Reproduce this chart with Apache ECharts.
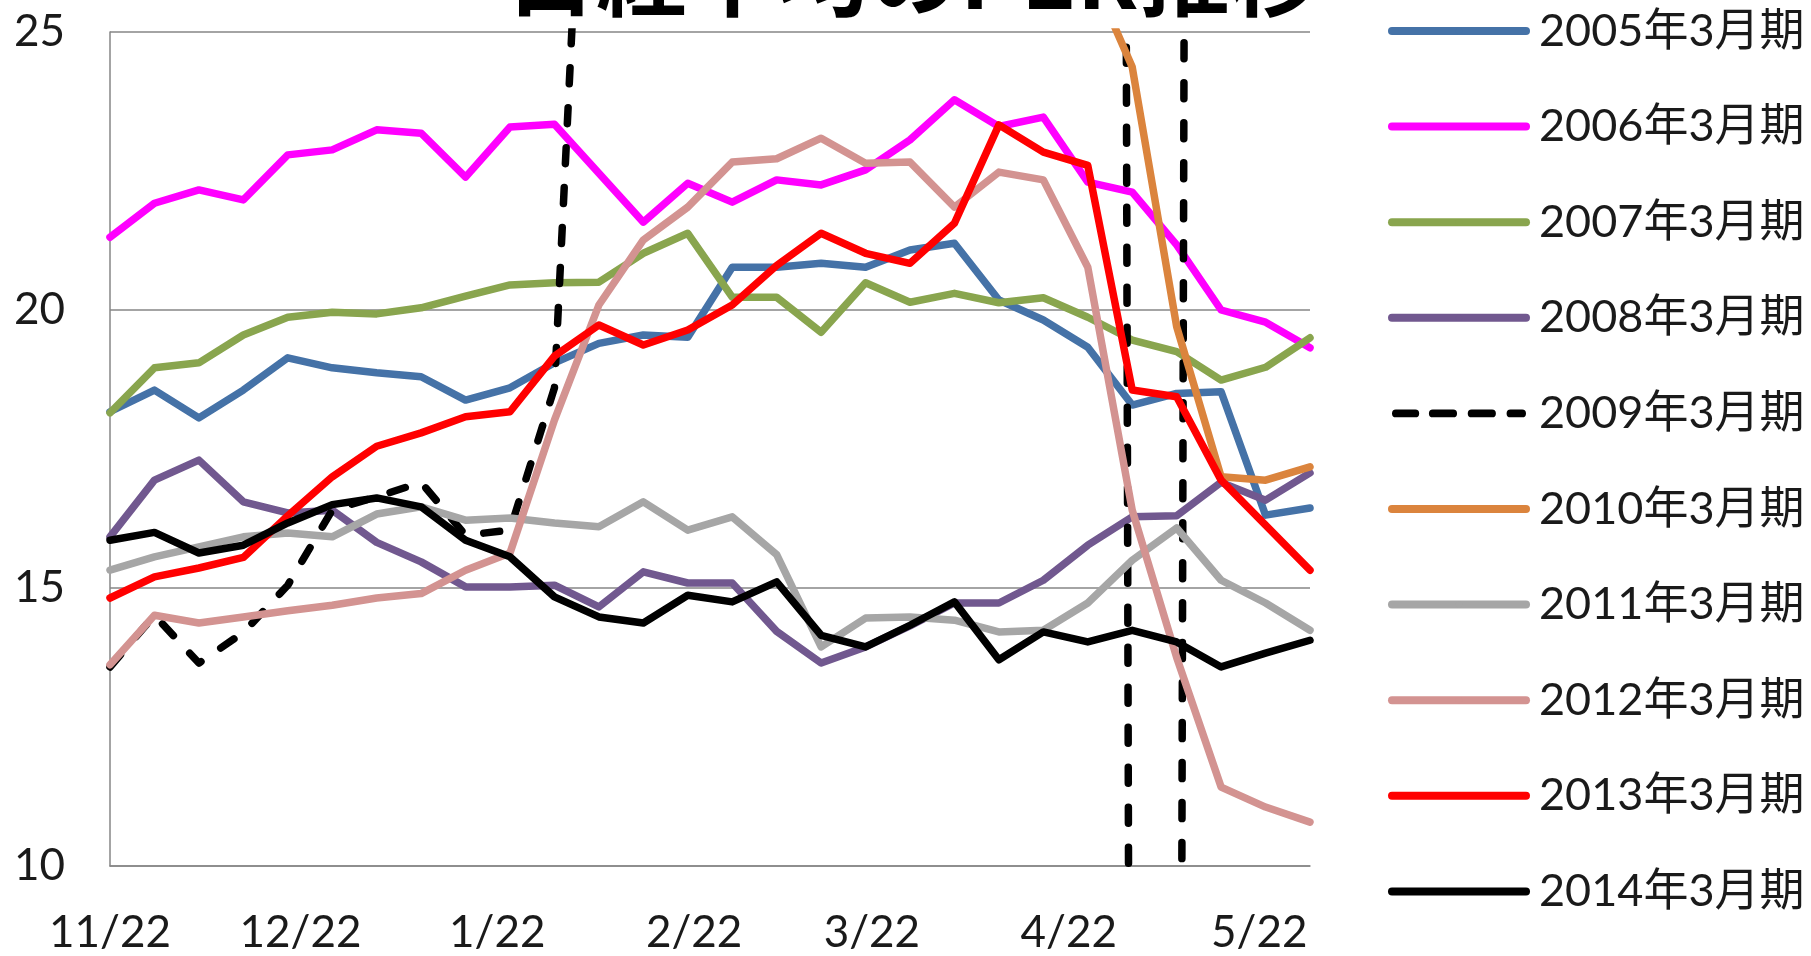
<!DOCTYPE html>
<html><head><meta charset="utf-8">
<script src="https://cdn.jsdelivr.net/npm/echarts@6/dist/echarts.min.js"></script>
<style>html,body{margin:0;padding:0;background:#fff}#c{width:1811px;height:956px}</style>
</head><body><div id="c"></div>
<script>
// x axis: days counted from 11/22, one data point per week
const tickLabels = ['11/22','12/22','1/22','2/22','3/22','4/22','5/22'];
const tickDays = [0, 30, 61, 92, 120, 151, 181];
const totalDays = 190;
const weekStep = 7;
const yTicks = [10, 15, 20, 25];

const seriesNames = ['2005年3月期','2006年3月期','2007年3月期','2008年3月期','2009年3月期','2010年3月期','2011年3月期','2012年3月期','2013年3月期','2014年3月期'];

const s2005 = [18.17,18.56,18.06,18.56,19.14,18.96,18.87,18.8,18.38,18.6,19.05,19.4,19.55,19.51,20.77,20.77,20.84,20.77,21.08,21.2,20.18,19.82,19.33,18.29,18.5,18.53,16.31,16.44];
const s2006 = [21.31,21.92,22.16,21.98,22.79,22.88,23.24,23.18,22.39,23.29,23.34,22.46,21.58,22.28,21.94,22.34,22.25,22.52,23.06,23.78,23.3,23.47,22.3,22.12,21.17,20.0,19.78,19.32];
const s2007 = [18.15,18.96,19.05,19.55,19.87,19.96,19.93,20.04,20.25,20.45,20.49,20.5,21.02,21.38,20.23,20.23,19.6,20.49,20.14,20.3,20.13,20.22,19.87,19.46,19.25,18.74,18.97,19.5];
const s2008 = [15.92,16.94,17.3,16.55,16.35,16.4,15.82,15.47,15.02,15.02,15.05,14.66,15.29,15.09,15.09,14.22,13.65,13.94,14.32,14.73,14.73,15.14,15.77,16.28,16.3,16.9,16.58,17.07];
const s2009 = [13.58,14.51,13.65,14.2,15.05,16.4,16.64,16.9,15.95,16.04,18.6,35,42,48,52,58,65,75,90,110,140,190,285,-15,-25,275,260,250];
const s2010 = [null,null,null,null,null,null,null,null,null,null,null,null,null,null,null,null,null,null,null,null,null,null,26.2,24.37,19.7,17.0,16.94,17.18];
const s2011 = [15.32,15.56,15.74,15.92,15.99,15.92,16.33,16.46,16.22,16.26,16.17,16.1,16.55,16.04,16.28,15.6,13.94,14.46,14.48,14.42,14.21,14.24,14.73,15.5,16.08,15.14,14.73,14.24];
const s2012 = [13.62,14.51,14.37,14.48,14.59,14.69,14.82,14.9,15.32,15.63,18.02,20.09,21.26,21.85,22.66,22.72,23.09,22.64,22.66,21.85,22.48,22.34,20.77,16.4,13.75,11.42,11.06,10.79];
const s2013 = [14.82,15.2,15.36,15.55,16.3,17.0,17.55,17.79,18.08,18.17,19.17,19.73,19.37,19.64,20.09,20.8,21.38,21.02,20.84,21.56,23.33,22.84,22.6,18.56,18.44,16.94,16.13,15.32];
const s2014 = [15.86,16.0,15.63,15.77,16.17,16.5,16.62,16.46,15.86,15.56,14.84,14.48,14.37,14.87,14.75,15.11,14.15,13.94,14.33,14.75,13.71,14.21,14.03,14.24,14.03,13.58,13.83,14.06];

const allValues = [s2005,s2006,s2007,s2008,s2009,s2010,s2011,s2012,s2013,s2014];
const colors = ['#4572A7','#FF00FF','#89A54E','#71588F','#000000','#DB843D','#A6A6A6','#D39391','#FF0000','#000000'];

const cats = [];
for (let d = 0; d < totalDays; d++) cats.push(String(d));

const font = 'Lato, "Noto Sans CJK JP", sans-serif';

const series = seriesNames.map((name, k) => ({
  name,
  type: 'line',
  symbol: 'none',
  showSymbol: false,
  clip: true,
  data: allValues[k].map((v, i) => [i * weekStep, v]),
  lineStyle: {
    color: colors[k],
    width: 7.5,
    type: k === 4 ? [16, 24] : 'solid',
    cap: 'round',
    join: 'round'
  },
  itemStyle: { color: colors[k] },
  emphasis: { disabled: true }
}));

// dashed legend key drawn as four rounded dashes
const dashIcon = 'path://M4,0H24A4,4 0 0 1 24,8H4A4,4 0 0 1 4,0Z' +
  'M42,0H63A4,4 0 0 1 63,8H42A4,4 0 0 1 42,0Z' +
  'M82,0H103A4,4 0 0 1 103,8H82A4,4 0 0 1 82,0Z' +
  'M122,0H134A4,4 0 0 1 134,8H122A4,4 0 0 1 122,0Z';

const legendData = seriesNames.map((name, k) => k === 4
  ? { name, icon: dashIcon, itemStyle: { color: '#000000' } }
  : { name });

const chart = echarts.init(document.getElementById('c'));
chart.setOption({
  animation: false,
  backgroundColor: '#ffffff',
  title: {
    text: '日経平均のPER推移',
    left: 500,
    top: -76,
    textStyle: { fontSize: 91, fontWeight: 'bold', color: '#000', fontFamily: '"Noto Sans CJK JP", sans-serif' }
  },
  grid: { left: 110, right: 501, top: 32, bottom: 90, containLabel: false },
  xAxis: {
    type: 'category',
    data: cats,
    boundaryGap: false,
    axisLine: { show: true, lineStyle: { color: '#868686', width: 1.5 } },
    axisTick: { show: false },
    splitLine: { show: false },
    axisLabel: {
      interval: (idx) => tickDays.indexOf(idx) >= 0,
      formatter: (val, idx) => { const k = tickDays.indexOf(Number(val)); return k >= 0 ? tickLabels[k] : ''; },
      fontSize: 44, fontFamily: font, color: '#1a1a1a', margin: 45
    }
  },
  yAxis: {
    type: 'value',
    min: yTicks[0], max: yTicks[yTicks.length - 1], interval: 5,
    axisLine: { show: true, lineStyle: { color: '#868686', width: 1.5 } },
    axisTick: { show: false },
    splitLine: { show: true, lineStyle: { color: '#868686', width: 1.5 } },
    axisLabel: { fontSize: 44, fontFamily: font, color: '#1a1a1a', margin: 45 }
  },
  legend: {
    orient: 'vertical',
    left: 1383,
    top: 1,
    itemWidth: 134,
    itemHeight: 8,
    itemGap: 45.6,
    selectedMode: false,
    data: legendData,
    lineStyle: { width: 8 },
    textStyle: { fontSize: 45, fontFamily: font, color: '#1a1a1a', lineHeight: 50, padding: [0, 0, 0, 8] }
  },
  series
});
</script></body></html>
